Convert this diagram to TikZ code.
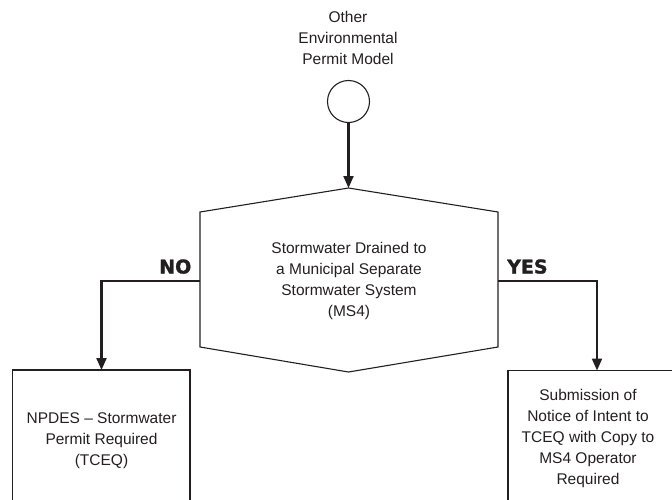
\documentclass[tikz,border=0pt]{standalone}
\usepackage{fontspec}
\setmainfont{Liberation Sans}
\newfontfamily\heavyfont[BoldFont={DejaVu Sans Bold}, BoldFeatures={FakeBold=1.5}]{DejaVu Sans}
\usetikzlibrary{arrows.meta}
\definecolor{ink}{HTML}{231F20}
\tikzset{
  shapeline/.style={draw=ink, line width=1.1pt},
  conn/.style={draw=ink, line width=2.1pt, -{Triangle[length=12pt,width=10pt]}},
  txt/.style={align=center, text=ink, font=\fontsize{15.5}{21}\selectfont, inner sep=0pt},
  yesno/.style={text=ink, font=\heavyfont\bfseries\fontsize{19}{22}\selectfont, inner sep=0pt},
}
\begin{document}
\begin{tikzpicture}[x=1pt,y=-1pt]
\useasboundingbox (0,0) rectangle (672,499);
\clip (0,0) rectangle (672,499);
% start label and circle
\node[txt] (lbl) at (348,38) {Other\\Environmental\\Permit Model};
\node[shapeline, circle, minimum size=42pt, inner sep=0pt] (start) at (348.5,101.5) {};
% decision hexagon
\coordinate (hT) at (348.5,188);
\coordinate (hTR) at (498,212);
\coordinate (hBR) at (498,347);
\coordinate (hB) at (348.5,372);
\coordinate (hBL) at (200,347);
\coordinate (hTL) at (200,212);
\draw[shapeline, line join=miter] (hT) -- (hTR) -- (hBR) -- (hB) -- (hBL) -- (hTL) -- cycle;
\node[txt] (dec) at (349,281) {Stormwater Drained to\\a Municipal Separate\\Stormwater System\\(MS4)};
\coordinate (hL) at (200,281);
\coordinate (hR) at (498,281);
% outcome boxes
\draw[shapeline] (12.5,370) rectangle (190,520);
\coordinate (noTop) at (101.5,370);
\node[txt] (no) at (101.5,441) {NPDES -- Stormwater\\Permit Required\\(TCEQ)};
\draw[shapeline] (508,370.5) rectangle (686,520);
\coordinate (yesTop) at (597,370.5);
\node[txt] (yes) at (588,438) {Submission of\\Notice of Intent to\\TCEQ with Copy to\\MS4 Operator\\Required};
% connectors
\draw[conn] (start.south) -- (hT);
\coordinate (noCorner) at (101.5,281);
\coordinate (yesCorner) at (597,281);
\draw[conn] (hL) -- (noCorner) -- (noTop);
\draw[conn] (hR) -- (yesCorner) -- (yesTop);
% labels
\node[yesno, anchor=base east] (nolbl) at (191.5,273.5) {NO};
\node[yesno, anchor=base west] (yeslbl) at (507,273.5) {YES};
\end{tikzpicture}
\end{document}
